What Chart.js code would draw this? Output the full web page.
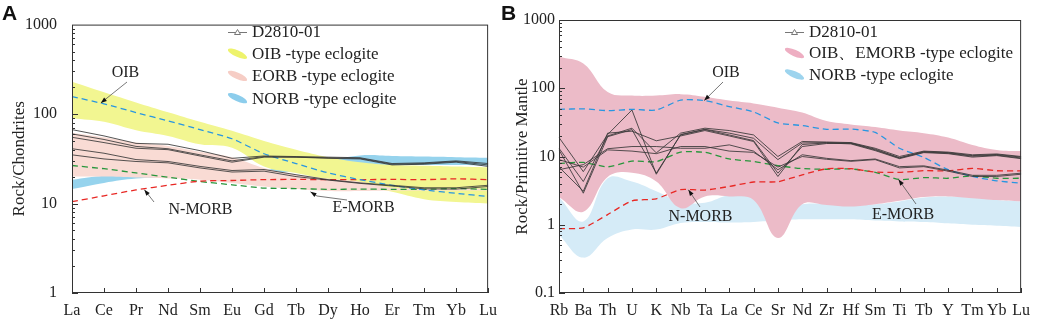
<!DOCTYPE html>
<html>
<head>
<meta charset="utf-8">
<script src="https://cdn.jsdelivr.net/npm/chart.js@4.4.1/dist/chart.umd.min.js"></script>
<style>
body { margin: 0; background: #fff; width: 1038px; height: 320px; overflow: hidden; position: relative; }
.panel { position: absolute; top: 0; height: 320px; }
#boxA { left: 0; width: 505px; }
#boxB { left: 505px; width: 533px; }
.tag { position: absolute; top: 2px; font: bold 21px "Liberation Sans", Arial, sans-serif; line-height: 21px; color: #111; }
</style>
</head>
<body>
<div class="panel" id="boxA"><canvas id="chartA"></canvas></div>
<div class="panel" id="boxB"><canvas id="chartB"></canvas></div>
<div class="tag" style="left:2px">A</div>
<div class="tag" style="left:501px">B</div>
<script>
// ---- Panel A: chondrite-normalised REE ----
const reeLabels = ['La', 'Ce', 'Pr', 'Nd', 'Sm', 'Eu', 'Gd', 'Tb', 'Dy', 'Ho', 'Er', 'Tm', 'Yb', 'Lu'];
const reeTicks = [1, 10, 100, 1000];
const reeSample1 = [67, 57, 47, 46, 39, 32, 34, 33.5, 33, 32.5, 28, 28.5, 30, 28];
const reeSample2 = [60, 52, 43.5, 41, 35, 30, 33.5, 33, 32.5, 32, 27.5, 28, 29.5, 27];
const reeSample3 = [55, 48, 41.5, 40, 34, 29, 33, 33, 32, 31.5, 27, 27.5, 29, 26];
const reeSample4 = [41, 36.5, 31, 29.5, 26, 23.4, 24, 21, 18.5, 17, 16, 15, 15, 16];
const reeSample5 = [35, 31.5, 29.5, 28.5, 25, 22.5, 23, 20, 18.3, 16.8, 15.7, 14.6, 14.5, 15.5];
const reeOib = [157, 130, 104, 84, 67, 53, 36, 28, 22, 18.5, 16, 14.2, 13, 12];
const reeNmorb = [10.5, 12.2, 14.2, 16, 17.8, 18.1, 18.5, 18.6, 18.5, 18.5, 18.6, 18.5, 18.9, 18.5];
const reeEmorb = [26.6, 24.5, 22, 19.7, 17.6, 16.2, 14.9, 14.7, 14.4, 14.5, 14.4, 14.4, 14.7, 14.4];
const reeOibHi = [229, 175, 135, 105, 82, 65, 50, 40, 33, 29, 27, 26.5, 26, 25.5];
const reeOibLo = [90, 82, 66, 57, 46, 42, 26, 22, 18.5, 16, 13.5, 11.2, 10.4, 10];
const reeEorbHi = [62, 55, 48, 44, 38, 33, 25, 21, 19, 17.5, 15, 14.6, 14.6, 14.6];
const reeEorbLo = [20, 20, 19.5, 19, 18.5, 17, 15.5, 14.5, 13.8, 13.8, 14, 14, 14, 14];
const reeNorbHi = [18.5, 20.5, 21, 21.5, 22, 23, 24, 26, 30, 34.5, 34, 33.5, 33, 32.5];
const reeNorbLo = [14.5, 17, 19, 19.5, 20, 21, 22, 23, 25, 27, 27, 27, 27, 26.5];

// ---- Panel B: primitive-mantle-normalised trace elements ----
const traceLabels = ['Rb', 'Ba', 'Th', 'U', 'K', 'Nb', 'Ta', 'La', 'Ce', 'Sr', 'Nd', 'Zr', 'Hf', 'Sm', 'Ti', 'Tb', 'Y', 'Tm', 'Yb', 'Lu'];
const traceTicks = [0.1, 1, 10, 100, 1000];
const traceSample1 = [19, 6.0, 21, 48, 5.5, 21, 25, 22, 18.5, 9, 15.8, 16, 15.8, 12.8, 9.6, 11.8, 11.4, 10.3, 10.7, 9.8];
const traceSample2 = [13.2, 4.3, 20, 26, 11.3, 22, 26, 24, 20.7, 10, 16.6, 16.3, 16, 13.2, 10, 12, 11.6, 10.6, 10.9, 10];
const traceSample3 = [12.5, 2.9, 19.5, 24.8, 5.7, 20.7, 24.8, 20.7, 17.1, 5.7, 14, 15.5, 15.6, 12.5, 9.5, 11.6, 11.2, 10.1, 10.5, 9.5];
const traceSample4 = [7, 3.1, 22, 23.5, 17, 20, 24, 20, 16.6, 5.1, 15, 15.8, 15.3, 12.2, 9.3, 11.4, 11, 9.8, 10.3, 9.3];
const traceSample5 = [6.4, 7.6, 13, 14, 14, 13.2, 13.2, 14.8, 12, 6.4, 10.6, 9.4, 8.7, 9.2, 7.1, 7.3, 6.3, 5.3, 5.3, 5.7];
const traceSample6 = [9, 7.0, 12.5, 12, 11, 14, 14, 12, 11.5, 7, 10, 9.1, 8.5, 9, 6.8, 7.1, 6.1, 5.1, 5.1, 5.5];
const traceOib = [49, 50, 47, 49, 48, 67, 66, 54, 45, 31, 28.4, 25, 25.2, 22.5, 13.2, 9.7, 6.4, 5.1, 4.4, 4.05];
const traceNmorb = [0.88, 0.9, 1.41, 2.24, 2.4, 3.27, 3.22, 3.64, 4.23, 4.27, 5.39, 6.6, 6.63, 5.92, 5.85, 6.2, 6.15, 6.7, 6.19, 6.15];
const traceEmorb = [7.9, 8.2, 7.06, 8.57, 8.4, 11.6, 11.5, 9.2, 8.45, 7.35, 6.65, 6.5, 6.57, 5.86, 4.6, 4.9, 4.8, 5.2, 4.8, 4.8];
const traceEnrHi = [290, 230, 88, 78, 78, 82, 75, 66, 60, 52, 44, 33, 29.5, 27, 24, 22, 19, 14.8, 12.5, 12];
const traceEnrLo = [2.55, 1.55, 5.0, 5.8, 4.3, 1.75, 2.6, 2.6, 2.3, 0.64, 2.0, 1.95, 1.85, 2.0, 2.25, 2.55, 2.6, 2.45, 2.3, 2.2];
const traceNorbHi = [2.55, 1.12, 4.8, 4.3, 3.1, 2.2, 2.1, 2.7, 2.5, 1.5, 2.0, 2.0, 1.9, 2.0, 2.2, 2.5, 2.6, 2.5, 2.3, 2.2];
const traceNorbLo = [0.71, 0.33, 0.64, 0.85, 0.85, 1.06, 1.1, 1.08, 1.1, 1.15, 1.2, 1.2, 1.2, 1.15, 1.12, 1.1, 1.05, 1.0, 0.97, 0.93];

const SERIF = '"Liberation Serif", "Times New Roman", serif';
const INK = '#222';
const DASH_BLUE = 'rgb(40,150,225)';
const DASH_RED = 'rgb(232,40,36)';
const DASH_GREEN = 'rgb(40,150,60)';

function sampleSet(data) {
    return { data, borderColor: 'rgba(55,55,55,0.85)', borderWidth: 1, pointRadius: 0, fill: false, tension: 0 };
}
function refSet(data, color) {
    return { data, borderColor: color, borderWidth: 1.3, borderDash: [6, 4], pointRadius: 0, fill: false, tension: 0.2 };
}
function band(hi, lo, color) {
    return [
        { data: hi, fill: '+1', backgroundColor: color, borderWidth: 0, pointRadius: 0, tension: 0.4 },
        { data: lo, fill: false, borderWidth: 0, pointRadius: 0, tension: 0.4 }
    ];
}

function arrowTo(ctx, pts) {
    ctx.strokeStyle = '#555';
    ctx.lineWidth = 0.8;
    ctx.beginPath();
    pts.forEach((p, i) => i ? ctx.lineTo(p[0], p[1]) : ctx.moveTo(p[0], p[1]));
    ctx.stroke();
    const [x1, y1] = pts[pts.length - 2], [x2, y2] = pts[pts.length - 1];
    const a = Math.atan2(y2 - y1, x2 - x1);
    ctx.fillStyle = '#111';
    ctx.beginPath();
    ctx.moveTo(x2, y2);
    ctx.lineTo(x2 - 6 * Math.cos(a) + 2.2 * Math.sin(a), y2 - 6 * Math.sin(a) - 2.2 * Math.cos(a));
    ctx.lineTo(x2 - 6 * Math.cos(a) - 2.2 * Math.sin(a), y2 - 6 * Math.sin(a) + 2.2 * Math.cos(a));
    ctx.closePath();
    ctx.fill();
}

// frame, inward ticks, legend and labelled pointers
function decorations(opts) {
    return {
        id: 'decor',
        afterDatasetsDraw(chart) {
            const { ctx, chartArea: a, scales: { x, y } } = chart;
            const off = opts.offset;
            ctx.save();
            ctx.strokeStyle = '#333';
            ctx.lineWidth = 1;
            ctx.strokeRect(a.left + 0.5, a.top + 0.5, a.right - a.left - 1, a.bottom - a.top - 1);
            ctx.beginPath();
            const e0 = Math.round(Math.log10(y.min)), e1 = Math.round(Math.log10(y.max));
            for (let e = e0; e < e1; e++) {
                for (let m = 1; m < 10; m++) {
                    const py = Math.round(y.getPixelForValue(m * Math.pow(10, e))) + 0.5;
                    ctx.moveTo(a.left, py);
                    ctx.lineTo(a.left + (m === 1 ? 6 : 3), py);
                }
            }
            x.getLabels().forEach((l, i) => {
                const px = Math.round(x.getPixelForValue(i)) + 0.5;
                ctx.moveTo(px, a.bottom);
                ctx.lineTo(px, a.bottom - 5);
            });
            ctx.stroke();

            // legend
            ctx.font = '17px ' + SERIF;
            ctx.textBaseline = 'middle';
            ctx.textAlign = 'left';
            opts.legend.items.forEach((it, i) => {
                const lx = opts.legend.x - off, ly = opts.legend.y + i * opts.legend.gap;
                if (it.line) {
                    ctx.strokeStyle = '#777';
                    ctx.lineWidth = 1;
                    ctx.beginPath();
                    ctx.moveTo(lx, ly); ctx.lineTo(lx + 19, ly);
                    ctx.stroke();
                    ctx.fillStyle = '#fff';
                    ctx.beginPath();
                    ctx.moveTo(lx + 9.5, ly - 3); ctx.lineTo(lx + 12.5, ly + 2); ctx.lineTo(lx + 6.5, ly + 2);
                    ctx.closePath();
                    ctx.fill(); ctx.stroke();
                } else {
                    ctx.save();
                    ctx.translate(lx + 9.5, ly - 1);
                    ctx.rotate(0.42);
                    ctx.fillStyle = it.color;
                    ctx.beginPath();
                    ctx.ellipse(0, 0, 10.5, 3.2, 0, 0, Math.PI * 2);
                    ctx.fill();
                    ctx.restore();
                }
                ctx.fillStyle = INK;
                ctx.fillText(it.text, lx + 24, ly);
            });

            // labelled pointers
            ctx.font = '16px ' + SERIF;
            ctx.textAlign = 'center';
            opts.notes.forEach(n => {
                const tip = [x.getPixelForValue(n.at[0]), y.getPixelForValue(n.at[1])];
                const pts = n.path.map(p => [p[0] - off, p[1]]).concat([tip]);
                arrowTo(ctx, pts);
                ctx.fillStyle = INK;
                ctx.fillText(n.text, n.label[0] - off, n.label[1]);
            });
            ctx.restore();
        }
    };
}

function makePanel(id, cfg) {
    return new Chart(document.getElementById(id), {
        type: 'line',
        data: { labels: cfg.labels, datasets: cfg.datasets },
        options: {
            responsive: true,
            maintainAspectRatio: false,
            animation: false,
            layout: { padding: { left: 0, top: 20, right: cfg.padRight, bottom: 0 } },
            plugins: { legend: { display: false }, tooltip: { enabled: false } },
            scales: {
                x: {
                    type: 'category',
                    offset: false,
                    afterFit: s => { s.height = 27; },
                    grid: { display: false, drawTicks: false },
                    border: { display: false },
                    ticks: { autoSkip: false, maxRotation: 0, minRotation: 0, padding: 8, color: INK, font: { family: SERIF, size: 16 } }
                },
                y: {
                    type: 'logarithmic',
                    min: cfg.ticks[0],
                    max: cfg.ticks[cfg.ticks.length - 1],
                    afterBuildTicks: s => { s.ticks = cfg.ticks.map(v => ({ value: v })); },
                    afterFit: s => { s.width = cfg.yWidth; },
                    grid: { display: false, drawTicks: false },
                    border: { display: false },
                    ticks: { padding: cfg.tickPad, color: INK, font: { family: SERIF, size: 16 }, callback: v => String(v) },
                    title: { display: true, text: cfg.title, color: INK, font: { family: SERIF, size: 17 }, padding: { top: cfg.titlePad, bottom: 0 } }
                }
            }
        },
        plugins: [decorations(cfg.decor)]
    });
}

makePanel('chartA', {
    labels: reeLabels,
    ticks: reeTicks,
    title: 'Rock/Chondrites',
    yWidth: 72, tickPad: 15, titlePad: 9, padRight: 14,
    datasets: [
        sampleSet(reeSample1), sampleSet(reeSample2), sampleSet(reeSample3),
        sampleSet(reeSample4), sampleSet(reeSample5),
        refSet(reeOib, DASH_BLUE), refSet(reeNmorb, DASH_RED), refSet(reeEmorb, DASH_GREEN),
        ...band(reeEorbHi, reeEorbLo, 'rgb(249,219,212)'),
        ...band(reeOibHi, reeOibLo, 'rgb(242,246,145)'),
        ...band(reeNorbHi, reeNorbLo, 'rgb(150,211,237)')
    ],
    decor: {
        offset: 0,
        legend: { x: 228, y: 32.5, gap: 22.2, items: [
            { line: true, text: 'D2810-01' },
            { color: 'rgb(238,243,108)', text: 'OIB -type eclogite' },
            { color: 'rgb(246,205,197)', text: 'EORB -type eclogite' },
            { color: 'rgb(140,205,236)', text: 'NORB -type eclogite' }
        ] },
        notes: [
            { text: 'OIB', label: [125.5, 73], path: [[127, 82]], at: [0.9, 133] },
            { text: 'N-MORB', label: [200.5, 210], path: [[154, 202]], at: [2.26, 14.3] },
            { text: 'E-MORB', label: [363.5, 207.5], path: [[347, 200], [317, 196]], at: [7.45, 13.5] }
        ]
    }
});

makePanel('chartB', {
    labels: traceLabels,
    ticks: traceTicks,
    title: 'Rock/Primitive Mantle',
    yWidth: 54, tickPad: 4, titlePad: 7, padRight: 13,
    datasets: [
        sampleSet(traceSample1), sampleSet(traceSample2), sampleSet(traceSample3),
        sampleSet(traceSample4), sampleSet(traceSample5), sampleSet(traceSample6),
        refSet(traceOib, DASH_BLUE), refSet(traceNmorb, DASH_RED), refSet(traceEmorb, DASH_GREEN),
        ...band(traceEnrHi, traceEnrLo, 'rgb(236,187,200)'),
        ...band(traceNorbHi, traceNorbLo, 'rgb(213,235,247)')
    ],
    decor: {
        offset: 505,
        legend: { x: 785, y: 32.5, gap: 21.5, items: [
            { line: true, text: 'D2810-01' },
            { color: 'rgb(238,174,194)', text: 'OIB、EMORB -type eclogite' },
            { color: 'rgb(157,212,238)', text: 'NORB -type eclogite' }
        ] },
        notes: [
            { text: 'OIB', label: [726, 72.5], path: [[723, 82]], at: [5.97, 66] },
            { text: 'N-MORB', label: [700.5, 216.5], path: [[700, 207]], at: [5.32, 3.25] },
            { text: 'E-MORB', label: [903, 215], path: [[916, 204]], at: [13.96, 4.6] }
        ]
    }
});
</script>
</body>
</html>
